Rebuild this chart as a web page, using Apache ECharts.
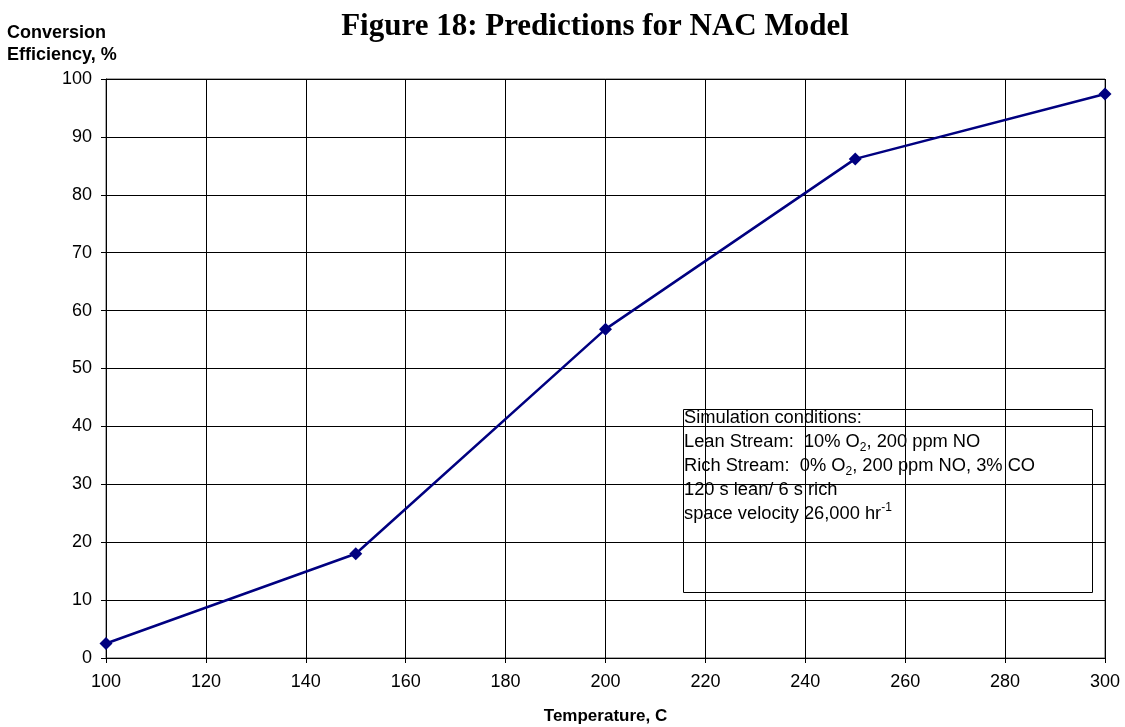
<!DOCTYPE html>
<html>
<head>
<meta charset="utf-8">
<script src="https://cdn.jsdelivr.net/npm/echarts@6/dist/echarts.min.js"></script>
<style>
html,body{margin:0;padding:0;background:#fff}
#chart{width:1125px;height:727px}
</style>
</head>
<body>
<div id="chart"></div>
<script>
// data
var temps = [100, 150, 200, 250, 300]
var efficiency = [2.5, 18.0, 56.8, 86.2, 97.4]
var noteLines = [
  'Simulation conditions:',
  'Lean Stream:  10% O{sub|2}, 200 ppm NO',
  'Rich Stream:  0% O{sub|2}, 200 ppm NO, 3% CO',
  '120 s lean/ 6 s rich',
  'space velocity 26,000 hr{sup|-1}'
]

var chart = echarts.init(document.getElementById('chart'))
var sans = 'Liberation Sans, Arial, sans-serif'

chart.setOption({
  animation: false,
  title: {
    text: 'Figure 18: Predictions for NAC Model',
    left: 590,
    textAlign: 'center',
    top: 6,
    textStyle: { fontFamily: 'Liberation Serif, Times New Roman, serif', fontSize: 31, fontWeight: 'bold', color: '#000' }
  },
  grid: {
    left: 106, right: 20, top: 79, bottom: 69,
    outerBoundsMode: 'none', containLabel: false,
    show: true, borderColor: '#555', borderWidth: 1
  },
  xAxis: {
    type: 'value',
    min: 100, max: 300, interval: 20,
    name: 'Temperature, C',
    nameLocation: 'middle',
    nameGap: 50,
    nameTextStyle: { fontFamily: sans, fontSize: 17, fontWeight: 'bold', color: '#000' },
    axisLine: { lineStyle: { color: '#000' } },
    axisTick: { show: true, length: 5, lineStyle: { color: '#000' } },
    axisLabel: { fontFamily: sans, fontSize: 18, color: '#000', margin: 15 },
    splitLine: { show: true, lineStyle: { color: '#000', width: 1 } }
  },
  yAxis: {
    type: 'value',
    min: 0, max: 100, interval: 10,
    axisLine: { show: true, lineStyle: { color: '#000' } },
    axisTick: { show: true, length: 5, lineStyle: { color: '#000' } },
    axisLabel: { fontFamily: sans, fontSize: 18, color: '#000', margin: 14 },
    splitLine: { show: true, lineStyle: { color: '#000', width: 1 } }
  },
  graphic: [
    {
      type: 'text', left: 7, top: 22,
      style: { text: 'Conversion\nEfficiency, %', font: 'bold 18px ' + sans, fill: '#000', lineHeight: 22 }
    },
    {
      type: 'rect', left: 681, top: 407, z: 5,
      shape: { width: 409, height: 183 },
      style: { fill: 'none', stroke: '#000', lineWidth: 1 }
    },
    {
      type: 'text', left: 684, top: 406, z: 6,
      style: {
        text: noteLines.join('\n'),
        font: '18.3px ' + sans,
        fill: '#000',
        lineHeight: 24,
        rich: {
          sub: { fontSize: 12, fontFamily: sans, verticalAlign: 'bottom', lineHeight: 12, padding: [9, 0, 0, 0] },
          sup: { fontSize: 12, fontFamily: sans, verticalAlign: 'top', lineHeight: 12, padding: [0, 0, 9, 0] }
        }
      }
    }
  ],
  series: [{
    type: 'line',
    data: temps.map(function (t, i) { return [t, efficiency[i]] }),
    symbol: 'diamond',
    symbolSize: 13,
    lineStyle: { color: '#000080', width: 2.5 },
    itemStyle: { color: '#000080' },
    z: 10
  }]
})
</script>
</body>
</html>
